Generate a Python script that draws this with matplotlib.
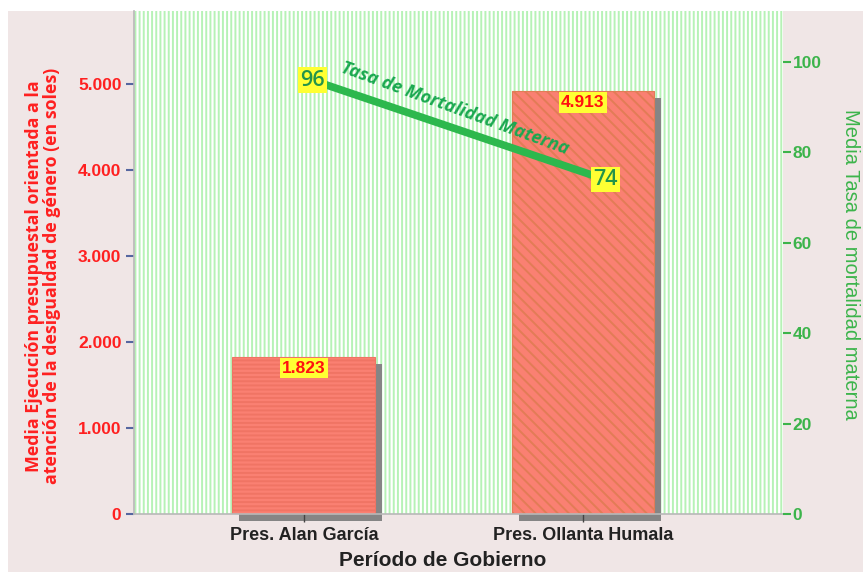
import numpy as np
import matplotlib.pyplot as plt
from matplotlib.patches import Rectangle
from matplotlib.transforms import ScaledTranslation

periodos = ['Pres. Alan García', 'Pres. Ollanta Humala']
ejecucion = [1823, 4913]
ejecucion_txt = ['1.823', '4.913']
mortalidad = [96, 74]
mortalidad_txt = ['96', '74']
yticks_izq = [0, 1000, 2000, 3000, 4000, 5000]
yticks_izq_txt = ['0', '1.000', '2.000', '3.000', '4.000', '5.000']
yticks_der = [0, 20, 40, 60, 80, 100]

plt.rcParams['hatch.linewidth'] = 1.4

W, H = 863, 572
fig = plt.figure(figsize=(W/100, H/100), dpi=100, facecolor='white')
fig.patches.append(Rectangle((8/W, 0), 1, 561/H, transform=fig.transFigure,
                             facecolor='#f0e6e6', edgecolor='none', zorder=-5))

ax1 = fig.add_axes([134/W, 58/H, 649/W, 503/H])
ax1.set_facecolor('white')
ax1.add_patch(Rectangle((0, 0), 1, 1, transform=ax1.transAxes, facecolor='white',
                        edgecolor='#b6f2b6', lw=0, hatch='||||', zorder=0))

x = np.arange(len(periodos))
width = 0.512

# sombra de las barras
sombra = ScaledTranslation(7/100, -7/100, fig.dpi_scale_trans)
ax1.bar(x, ejecucion, width=width, color='#858585', zorder=1,
        transform=ax1.transData + sombra, clip_on=False)

bars = ax1.bar(x, ejecucion, width=width, color='#fa8072', zorder=2, lw=0.8)
bars[0].set_edgecolor('#f07464')
bars[0].set_hatch('----')
bars[1].set_edgecolor('#e27c56')
bars[1].set_hatch('\\\\\\')

for xi, v, t in zip(x, ejecucion, ejecucion_txt):
    ax1.annotate(t, (xi, v), xytext=(0, -2.5), textcoords='offset points',
                 ha='center', va='top', color='#ff1010', fontsize=12.5,
                 fontweight='bold', family='Liberation Sans', zorder=5,
                 bbox=dict(boxstyle='square,pad=0.15', fc='#ffff33', ec='none'))

ax1.set_xlim(-0.609, 1.717)
ax1.set_ylim(0, 5849)
ax1.set_yticks(yticks_izq, yticks_izq_txt)
ax1.set_xticks(x, periodos)
ax1.tick_params(axis='y', colors='#5566a0', labelcolor='#ff2020', length=6,
                width=1.5, labelsize=12.5, pad=3)
ax1.tick_params(axis='x', colors='#444444', labelcolor='#222222', length=6,
                width=1, labelsize=13, pad=3)
for lab in ax1.get_yticklabels() + ax1.get_xticklabels():
    lab.set_fontweight('bold')
    lab.set_family('Liberation Sans')
for s in ['top', 'right']:
    ax1.spines[s].set_visible(False)
for s in ['left', 'bottom']:
    ax1.spines[s].set_color('#b8b8b8')
    ax1.spines[s].set_linewidth(1.2)

ax2 = ax1.twinx()
line_x = [0.03, 1.08]
ax2.plot(line_x, mortalidad, color='#2db84d', lw=5.5, solid_capstyle='butt', zorder=3)
for xi, v, t in zip(line_x, mortalidad, mortalidad_txt):
    ax2.text(xi, v, t, ha='center', va='center', color='#23944a', fontsize=15.5,
             family='Open Sans', fontweight='semibold', zorder=5,
             bbox=dict(boxstyle='square,pad=0.1', fc='#ffff33', ec='none'))
ax2.text(0.54, 89.8, 'Tasa de Mortalidad Materna', rotation=-20,
         rotation_mode='anchor', ha='center', va='center', color='#1aa850',
         fontsize=13, fontweight='bold', style='italic', family='Open Sans')

ax2.set_ylim(0, 111.3)
ax2.set_yticks(yticks_der)
ax2.tick_params(axis='y', colors='#3cb44b', length=6, width=1.5, labelsize=12.5, pad=1)
for lab in ax2.get_yticklabels():
    lab.set_fontweight('bold')
    lab.set_family('Liberation Sans')
for s in ax2.spines.values():
    s.set_visible(False)

fig.text(43/W, 1 - 276/H,
         'Media Ejecución presupuestal orientada a la\natención de la desigualdad de género (en soles)',
         rotation=90, ha='center', va='center', multialignment='center',
         color='#ff2020', fontsize=12.8, fontweight='bold', family='Open Sans',
         linespacing=1.05)
fig.text(850/W, 1 - 264/H, 'Media Tasa de mortalidad materna', rotation=270,
         ha='center', va='center', color='#3cb44b', fontsize=14.5,
         family='Liberation Sans')
fig.text(443/W, 1 - 561/H, 'Período de Gobierno', ha='center', va='center',
         color='#222222', fontsize=15, fontweight='bold', family='Liberation Sans')

fig.savefig('out.png', dpi=100, facecolor=fig.get_facecolor())
